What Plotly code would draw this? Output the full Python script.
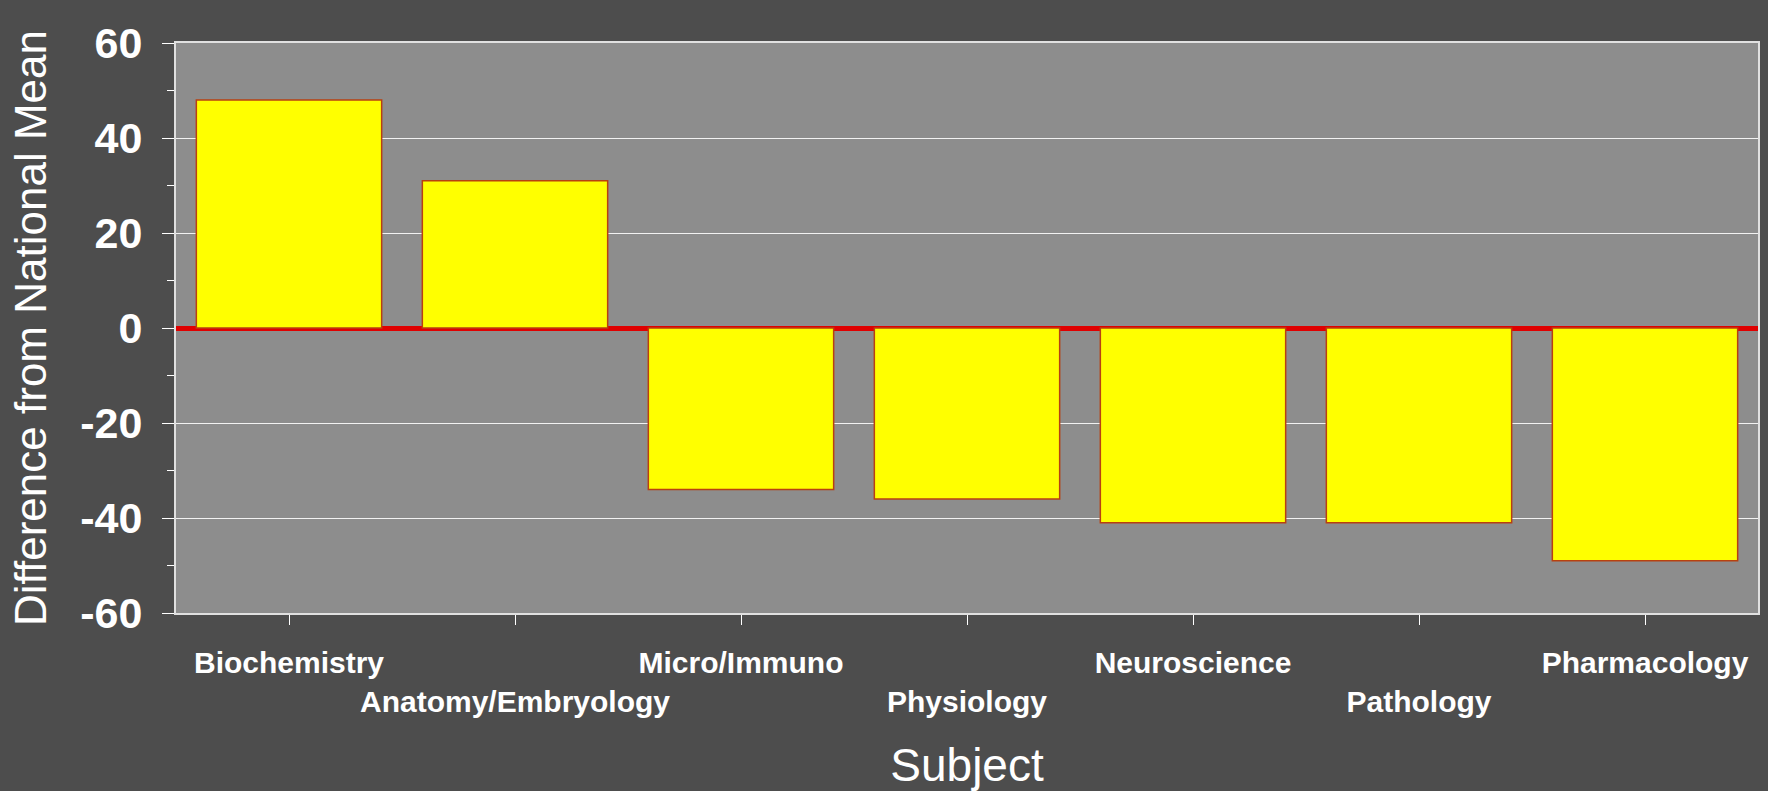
import plotly.graph_objects as go

subjects = ["Biochemistry", "Anatomy/Embryology", "Micro/Immuno", "Physiology",
            "Neuroscience", "Pathology", "Pharmacology"]
differences = [48, 31, -34, -36, -41, -41, -49]
y_ticks = [-60, -40, -20, 0, 20, 40, 60]
y_tick_text = ["-60", "-40", "-20", "0", "20", "40", "60"]

# alternate labels on two rows, as in the original
tick_text = [s if i % 2 == 0 else "<br>" + s for i, s in enumerate(subjects)]

FONT = "Liberation Sans, Arial, sans-serif"

fig = go.Figure()
fig.add_trace(go.Bar(
    x=subjects, y=differences,
    marker=dict(color="#FFFF00", line=dict(color="#B84010", width=1.5)),
    width=0.82,
))

fig.update_layout(
    width=1768, height=791,
    paper_bgcolor="#4D4D4D", plot_bgcolor="#8D8D8D",
    margin=dict(l=176, r=10, t=43, b=178),
    showlegend=False,
    font=dict(family=FONT, color="white"),
)
fig.update_xaxes(
    automargin=False,
    tickmode="array", tickvals=subjects, ticktext=tick_text, tickangle=0,
    tickfont=dict(family=FONT, size=30, color="white", weight="bold"),
    ticks="outside", ticklen=10, tickcolor="white", tickwidth=1,
    ticklabelstandoff=12,
    showline=True, linecolor="#E0E0E0", linewidth=2, mirror=True,
    showgrid=False,
    title=dict(text="Subject", font=dict(family=FONT, size=46, color="white"), standoff=36),
)
fig.update_yaxes(
    automargin=False,
    range=[-60, 60], tickmode="array", tickvals=y_ticks, ticktext=y_tick_text,
    tickfont=dict(family=FONT, size=43, color="white", weight="bold"),
    ticks="outside", ticklen=12, tickcolor="white", tickwidth=1,
    ticklabelstandoff=11,
    minor=dict(dtick=10, tick0=0, ticks="outside", ticklen=7, tickcolor="white", showgrid=False),
    showline=True, linecolor="#E0E0E0", linewidth=2, mirror=True,
    showgrid=True, gridcolor="#F2F2F2", gridwidth=1,
    zeroline=True, zerolinecolor="#E00000", zerolinewidth=5,
    title=dict(text="Difference from National Mean", font=dict(family=FONT, size=44, color="white"), standoff=20),
)

fig.write_html(
    "out.html",
    config={"displayModeBar": False},
    post_script="document.body.style.margin='0';document.body.style.overflow='hidden';",
)
